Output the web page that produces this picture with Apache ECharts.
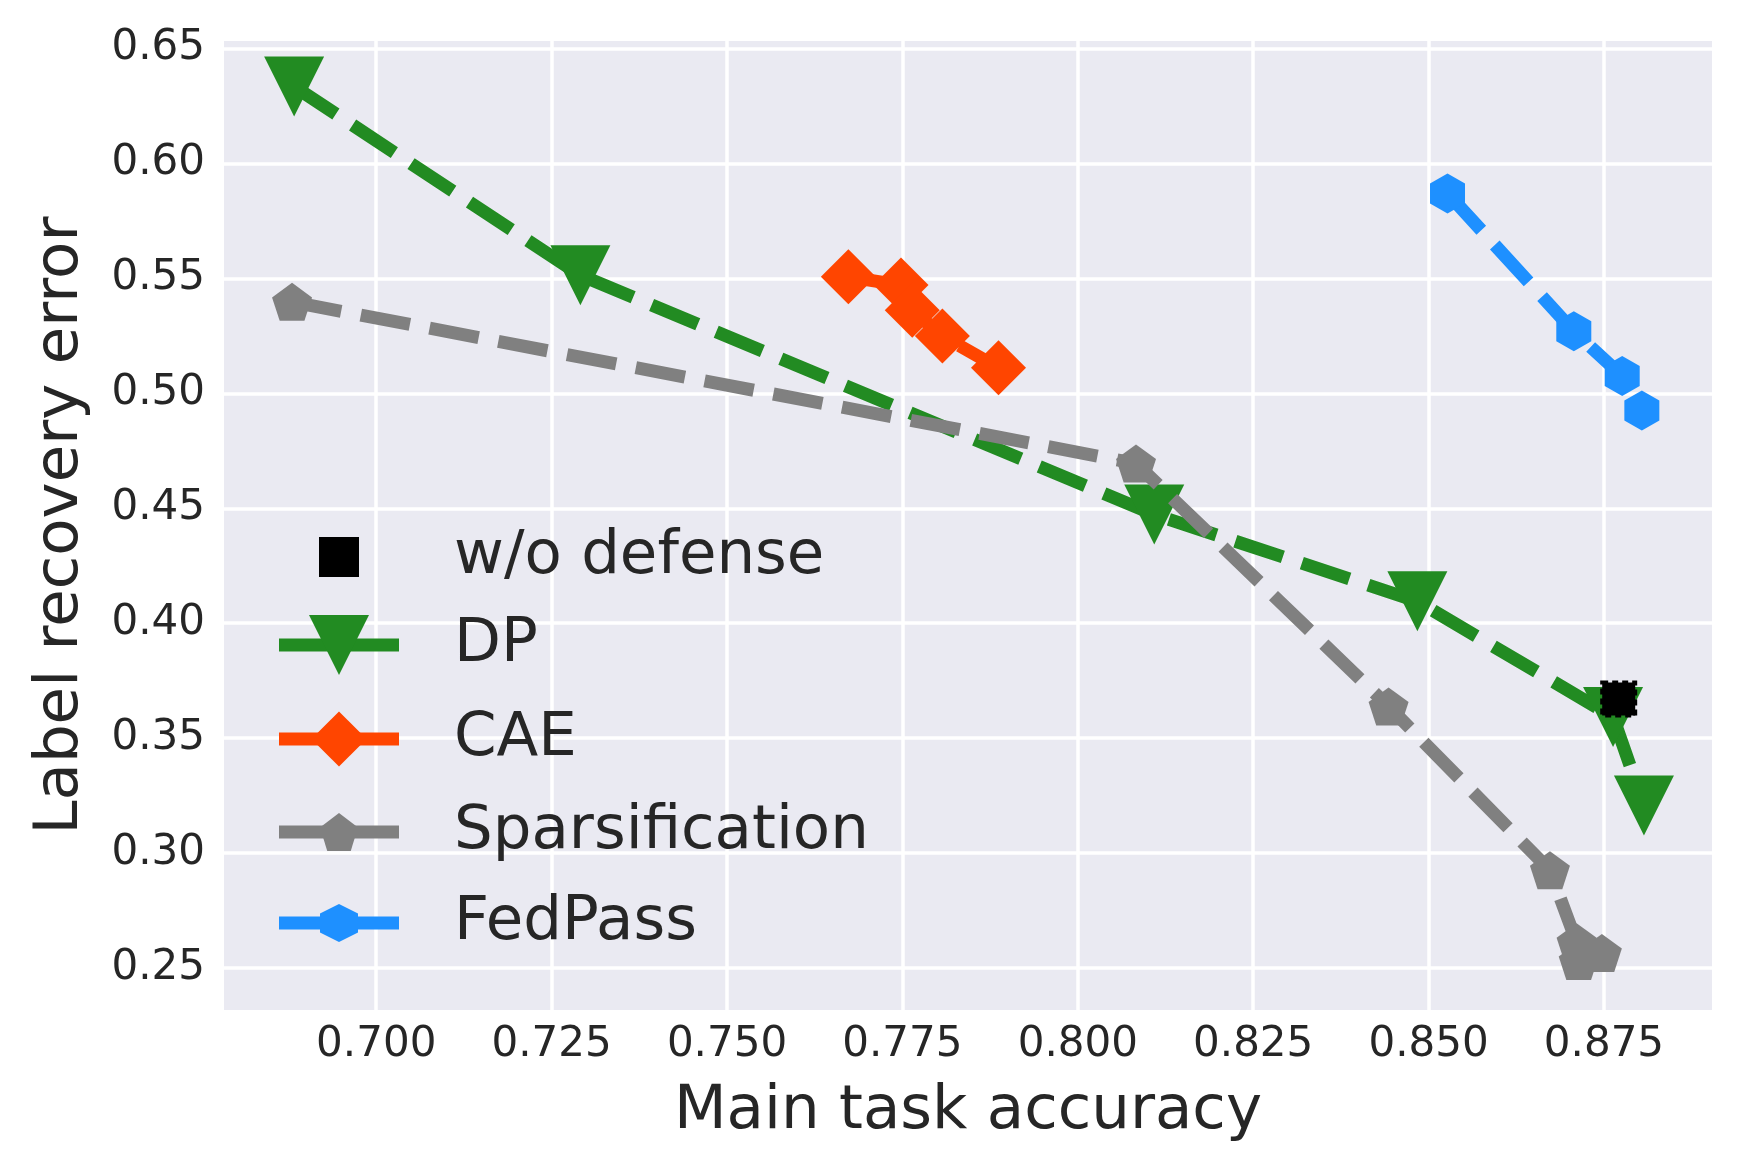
<!DOCTYPE html>
<html>
<head>
<meta charset="utf-8">
<script src="https://cdn.jsdelivr.net/npm/echarts@6/dist/echarts.min.js"></script>
<style>
  html, body { margin: 0; padding: 0; background: #fff; }
  #main { width: 1744px; height: 1176px; }
</style>
</head>
<body>
<div id="main"></div>
<script>
// values
var dpAcc = [0.6883, 0.7291, 0.8109, 0.8484, 0.8763, 0.8807];
var dpErr = [0.6335, 0.5514, 0.4473, 0.4095, 0.3592, 0.3207];
var caeAcc = [0.7673, 0.7748, 0.7764, 0.7807, 0.7887];
var caeErr = [0.5507, 0.5471, 0.5362, 0.5249, 0.5111];
var spAcc = [0.6880, 0.8083, 0.8443, 0.8673, 0.8711, 0.8714, 0.8747];
var spErr = [0.5398, 0.4695, 0.3638, 0.2925, 0.2612, 0.2530, 0.2565];
var fpAcc = [0.8527, 0.8707, 0.8776, 0.8804];
var fpErr = [0.5870, 0.5270, 0.5075, 0.4925];
var noDefAcc = [0.8771];
var noDefErr = [0.3670];

var names = ['w/o defense', 'DP', 'CAE', 'Sparsification', 'FedPass'];
var xRange = [0.6783, 0.8904];
var yRange = [0.2317, 0.6533];

var FONT = 'DejaVu Sans';
var TXT = '#262626';

var pentagon = 'path://M0,-100 L95.1,-30.9 L58.8,80.9 L-58.8,80.9 L-95.1,-30.9 Z';
var hexagon = 'path://M0,-100 L86.6,-50 L86.6,50 L0,100 L-86.6,50 L-86.6,-50 Z';

function zip(xs, ys) {
    var out = [];
    for (var i = 0; i < xs.length; i++) out.push([xs[i], ys[i]]);
    return out;
}

function lineSeries(name, xs, ys, color, symbol, size, rotate, z) {
    return {
        name: name,
        type: 'line',
        data: zip(xs, ys),
        symbol: symbol,
        symbolSize: size,
        symbolRotate: rotate,
        showSymbol: true,
        z: z,
        lineStyle: { color: color, width: 13, type: [50, 20], cap: 'butt' },
        itemStyle: { color: color },
        emphasis: { disabled: true }
    };
}

var myChart = echarts.init(document.getElementById('main'));

// one legend per entry so each icon can keep its own marker size
var legendRows = [
    { name: names[0], h: 47.5, center: 557, line: 0 },
    { name: names[1], h: 75, center: 652, line: 1 },
    { name: names[2], h: 69, center: 743, line: 1 },
    { name: names[3], h: 47.5, center: 832, line: 1 },
    { name: names[4], h: 47.5, center: 923, line: 1 }
];
var legends = legendRows.map(function (r) {
    return {
        data: [r.name],
        left: 272.5,
        top: r.center - Math.max(r.h, 61) / 2,
        padding: 0,
        itemWidth: 120,
        itemHeight: r.h,
        selectedMode: false,
        lineStyle: { width: 13, type: 'solid', opacity: r.line },
        textStyle: { fontFamily: FONT, fontSize: 61, lineHeight: 61, color: TXT, padding: [0, 0, 0, 50] }
    };
});

var noDef = lineSeries(names[0], noDefAcc, noDefErr, '#000000', 'rect', 33, 0, 10);
noDef.lineStyle = { width: 0, opacity: 0 };
noDef.itemStyle = { color: '#000000', borderColor: '#000000', borderWidth: 4, borderType: [6, 4] };

option = {
    animation: false,
    backgroundColor: '#ffffff',
    legend: legends,
    grid: {
        left: 224,
        right: 32,
        top: 41,
        bottom: 166,
        show: true,
        backgroundColor: '#EAEAF2',
        borderWidth: 0
    },
    xAxis: {
        type: 'value',
        min: xRange[0],
        max: xRange[1],
        minInterval: 0.025,
        maxInterval: 0.025,
        name: 'Main task accuracy',
        nameLocation: 'middle',
        nameGap: 72,
        nameTextStyle: { fontFamily: FONT, fontSize: 61, color: TXT },
        axisLine: { show: false },
        axisTick: { show: false },
        axisLabel: {
            fontFamily: FONT, fontSize: 42, color: TXT, margin: 14,
            showMinLabel: false, showMaxLabel: false,
            formatter: function (v) { return v.toFixed(3); }
        },
        splitLine: { show: true, showMinLine: false, showMaxLine: false, lineStyle: { color: '#ffffff', width: 3.5 } }
    },
    yAxis: {
        type: 'value',
        min: yRange[0],
        max: yRange[1],
        minInterval: 0.05,
        maxInterval: 0.05,
        name: 'Label recovery error',
        nameLocation: 'middle',
        nameGap: 132,
        nameTextStyle: { fontFamily: FONT, fontSize: 61, color: TXT },
        axisLine: { show: false },
        axisTick: { show: false },
        axisLabel: {
            fontFamily: FONT, fontSize: 42, color: TXT, margin: 19,
            showMinLabel: false, showMaxLabel: false,
            formatter: function (v) { return v.toFixed(2); }
        },
        splitLine: { show: true, showMinLine: false, showMaxLine: false, lineStyle: { color: '#ffffff', width: 3.5 } }
    },
    series: [
        lineSeries(names[1], dpAcc, dpErr, '#228B22', 'triangle', [60, 60], 180, 2),
        lineSeries(names[2], caeAcc, caeErr, '#FF4500', 'diamond', [55, 55], 0, 3),
        lineSeries(names[3], spAcc, spErr, '#808080', pentagon, [40, 38], 0, 4),
        lineSeries(names[4], fpAcc, fpErr, '#1E90FF', hexagon, [35, 40], 0, 5),
        noDef
    ]
};

if (option && typeof option === "object") {
    myChart.setOption(option, true);
}
</script>
</body>
</html>
